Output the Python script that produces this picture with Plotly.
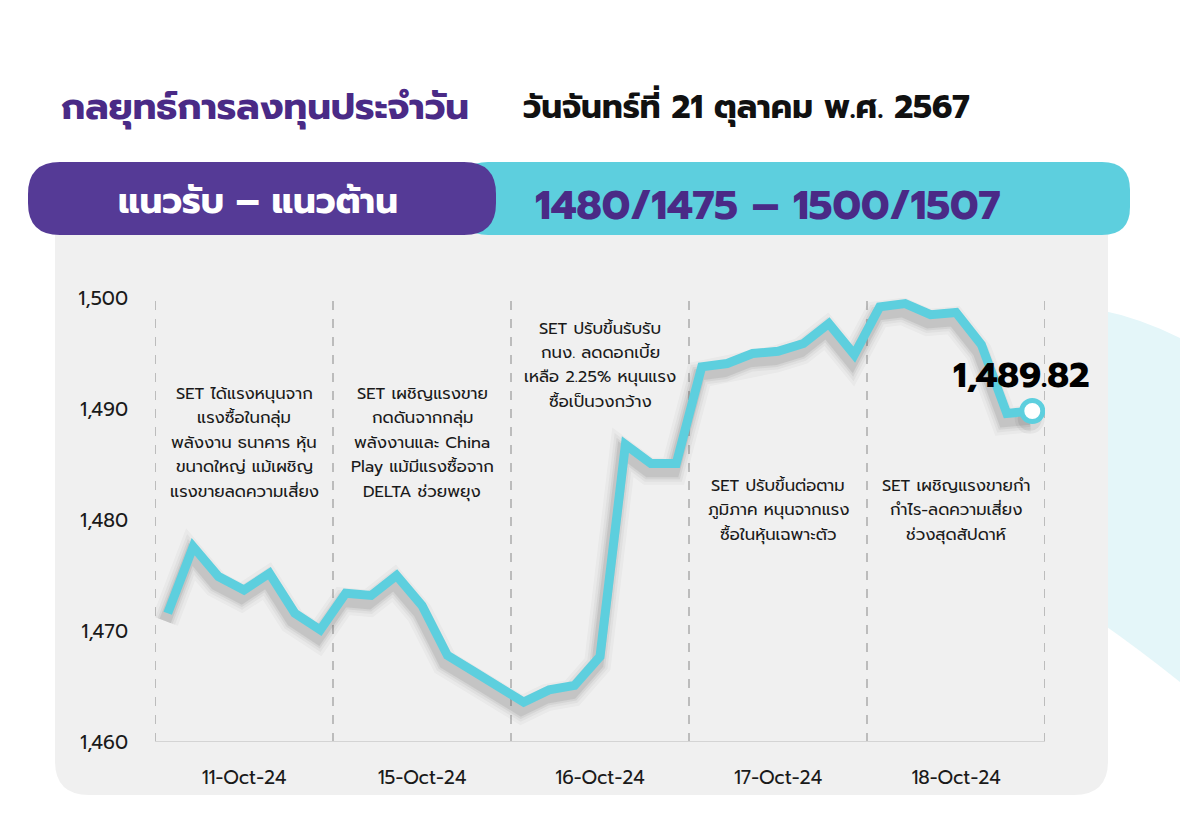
import plotly.graph_objects as go

# ---------------- data ----------------
days = ["11-Oct-24", "15-Oct-24", "16-Oct-24", "17-Oct-24", "18-Oct-24"]
oct11 = [1471.6, 1477.6, 1474.9, 1473.7, 1475.2, 1471.6, 1470.1]
oct15 = [1473.4, 1473.2, 1475.0, 1472.3, 1467.8, 1466.4, 1465.0]
oct16 = [1463.6, 1464.7, 1465.1, 1467.7, 1486.8, 1485.1, 1485.1]
oct17 = [1493.8, 1494.1, 1495.0, 1495.2, 1495.9, 1497.7, 1494.9]
oct18 = [1499.2, 1499.5, 1498.5, 1498.7, 1495.8, 1489.6, 1489.82]
last_label = "1,489.82"
y_ticks = [1460, 1470, 1480, 1490, 1500]

title_left = "กลยุทธ์การลงทุนประจำวัน"
title_right = "วันจันทร์ที่ 21 ตุลาคม พ.ศ. 2567"
band_label = "แนวรับ – แนวต้าน"
band_values = "1480/1475 – 1500/1507"

notes = [
    ["SET ได้แรงหนุนจาก", "แรงซื้อในกลุ่ม", "พลังงาน ธนาคาร หุ้น", "ขนาดใหญ่ แม้เผชิญ", "แรงขายลดความเสี่ยง"],
    ["SET เผชิญแรงขาย", "กดดันจากกลุ่ม", "พลังงานและ China", "Play แม้มีแรงซื้อจาก", "DELTA ช่วยพยุง"],
    ["SET ปรับขึ้นรับรับ", "กนง. ลดดอกเบี้ย", "เหลือ 2.25% หนุนแรง", "ซื้อเป็นวงกว้าง"],
    ["SET ปรับขึ้นต่อตาม", "ภูมิภาค หนุนจากแรง", "ซื้อในหุ้นเฉพาะตัว"],
    ["SET เผชิญแรงขายกำ", "กำไร-ลดความเสี่ยง", "ช่วงสุดสัปดาห์"],
]

# ---------------- layout helpers ----------------
W, H = 1180, 820
def px(x):
    return x / W
def py(y):
    return 1 - y / H

series = [oct11, oct15, oct16, oct17, oct18]
values = [v for d in series for v in d]
per_day = len(oct11)
xs = list(range(len(values)))
day_centers = [i * per_day + (per_day - 1) / 2 for i in range(len(days))]
day_bounds = [i * per_day - 0.5 for i in range(len(days) + 1)]

PURPLE = "#553A96"
PURPLE_DARK = "#4A2A86"
CYAN = "#5DCFDE"
PANEL = "#F0F0F0"
FONT = "Prompt, Kanit, 'Noto Sans Thai', 'Noto Sans', Roboto, sans-serif"

fig = go.Figure()

# soft shadow of the line (layered translucent gray)
sx = [x - 0.1 for x in xs]
sy = [v - 0.7 for v in values]
for w, op in [(27, 0.03), (21, 0.045), (16, 0.065), (12, 0.09)]:
    fig.add_trace(go.Scatter(
        x=sx, y=sy, mode="lines",
        line=dict(color=f"rgba(40,40,40,{op})", width=w),
        hoverinfo="skip", showlegend=False))
for s, op in [(30, 0.05), (24, 0.08)]:
    fig.add_trace(go.Scatter(
        x=[sx[-1]], y=[sy[-1]], mode="markers",
        marker=dict(size=s, color=f"rgba(40,40,40,{op})", line=dict(width=0)),
        hoverinfo="skip", showlegend=False))

fig.add_trace(go.Scatter(
    x=xs, y=values, mode="lines",
    line=dict(color=CYAN, width=9),
    hoverinfo="skip", showlegend=False))

fig.add_trace(go.Scatter(
    x=[xs[-1]], y=[values[-1]], mode="markers",
    marker=dict(size=21, color="white", line=dict(color=CYAN, width=5)),
    hoverinfo="skip", showlegend=False))

shapes = []
# decorative light cyan swoosh on the right
shapes.append(dict(type="path", xref="paper", yref="paper", layer="below",
    path=f"M {px(1100)} {py(310)} Q {px(1140)} {py(318)} {px(1180)} {py(338)} "
         f"L {px(1180)} {py(682)} Q {px(1140)} {py(650)} {px(1100)} {py(622)} Z",
    fillcolor="#E4F6F9", line=dict(width=0)))
# gray panel with rounded bottom corners
r = 34
x0, x1, y0, y1 = 55, 1108, 215, 795
shapes.append(dict(type="path", xref="paper", yref="paper", layer="below",
    path=(f"M {px(x0)} {py(y0)} L {px(x1)} {py(y0)} L {px(x1)} {py(y1 - r)} "
          f"Q {px(x1)} {py(y1)} {px(x1 - r)} {py(y1)} L {px(x0 + r)} {py(y1)} "
          f"Q {px(x0)} {py(y1)} {px(x0)} {py(y1 - r)} Z"),
    fillcolor=PANEL, line=dict(width=0)))

def pill(xa, xb, ya, yb, rad, color):
    return dict(type="path", xref="paper", yref="paper", layer="above",
        path=(f"M {px(xa + rad)} {py(ya)} L {px(xb - rad)} {py(ya)} "
              f"Q {px(xb)} {py(ya)} {px(xb)} {py(ya + rad)} L {px(xb)} {py(yb - rad)} "
              f"Q {px(xb)} {py(yb)} {px(xb - rad)} {py(yb)} L {px(xa + rad)} {py(yb)} "
              f"Q {px(xa)} {py(yb)} {px(xa)} {py(yb - rad)} L {px(xa)} {py(ya + rad)} "
              f"Q {px(xa)} {py(ya)} {px(xa + rad)} {py(ya)} Z"),
        fillcolor=color, line=dict(width=0))

shapes.append(pill(460, 1130, 162, 235, 28, CYAN))
shapes.append(pill(28, 496, 162, 235, 32, PURPLE))

# vertical dashed separators
for b in day_bounds:
    shapes.append(dict(type="line", xref="x", yref="y", x0=b, x1=b,
        y0=y_ticks[0], y1=y_ticks[-1], layer="below",
        line=dict(color="#9A9A9A", width=1.2, dash="dash")))
# bottom axis line
shapes.append(dict(type="line", xref="x", yref="y", x0=day_bounds[0], x1=day_bounds[-1],
    y0=y_ticks[0], y1=y_ticks[0], layer="below", line=dict(color="#D4D4D4", width=2)))

annotations = []
annotations.append(dict(xref="paper", yref="paper", x=px(59), y=py(107),
    xanchor="left", yanchor="middle", text=f"<b>{title_left}</b>", showarrow=False,
    font=dict(family=FONT, size=37, color=PURPLE_DARK)))
annotations.append(dict(xref="paper", yref="paper", x=px(521), y=py(107),
    xanchor="left", yanchor="middle", text=f"<b>{title_right}</b>", showarrow=False,
    font=dict(family=FONT, size=32.5, color="#111111")))
annotations.append(dict(xref="paper", yref="paper", x=px(258), y=py(201),
    xanchor="center", yanchor="middle", text=f"<b>{band_label}</b>", showarrow=False,
    font=dict(family=FONT, size=35.5, color="white")))
annotations.append(dict(xref="paper", yref="paper", x=px(768), y=py(205),
    xanchor="center", yanchor="middle", text=f"<b>{band_values}</b>", showarrow=False,
    font=dict(family=FONT, size=41, color=PURPLE_DARK)))

# notes per day
note_top = [393, 393, 328, 485, 485]
spacing = 24.5
for i, lines in enumerate(notes):
    for j, line in enumerate(lines):
        annotations.append(dict(xref="x", yref="paper", x=day_centers[i],
            y=py(note_top[i] + j * spacing), xanchor="center", yanchor="middle",
            text=line, showarrow=False,
            font=dict(family=FONT, size=16.5, color="#1A1A1A")))

# last value label
annotations.append(dict(xref="x", yref="y", x=xs[-1] - 0.45, y=values[-1],
    yshift=36, xanchor="center", yanchor="middle", text=f"<b>{last_label}</b>",
    showarrow=False, font=dict(family=FONT, size=35, color="black")))

fig.update_layout(
    width=W, height=H, margin=dict(l=0, r=0, t=0, b=0, autoexpand=False),
    paper_bgcolor="white", plot_bgcolor="rgba(0,0,0,0)",
    shapes=shapes, annotations=annotations, showlegend=False,
    xaxis=dict(domain=[px(155), px(1045)], range=[day_bounds[0], day_bounds[-1]],
        tickvals=day_centers, ticktext=days, showgrid=False, zeroline=False,
        showline=False, ticks="", ticklabelstandoff=22, automargin=False,
        tickfont=dict(family=FONT, size=19, color="#1A1A1A")),
    yaxis=dict(domain=[py(742), py(298)], range=[y_ticks[0], y_ticks[-1]],
        tickvals=y_ticks, tickformat=",", showgrid=False, zeroline=False,
        showline=False, ticks="", ticklabelstandoff=26, automargin=False,
        tickfont=dict(family=FONT, size=19.5, color="#1A1A1A")),
)

fig.write_html("out.html", config={"displayModeBar": False},
               post_script="document.body.style.margin='0';document.body.style.overflow='hidden';")
